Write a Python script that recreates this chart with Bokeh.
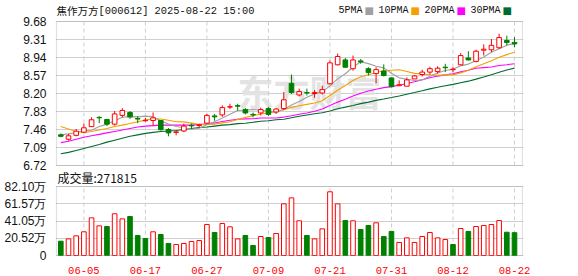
import numpy as np
import pandas as pd
from bokeh.plotting import figure
from bokeh.models import Range1d, FixedTicker, Label, BoxAnnotation
from bokeh.embed import file_html
from bokeh.resources import INLINE

# ---------------- data ----------------
dates = ["05-30", "06-03", "06-04", "06-05", "06-06", "06-09", "06-10", "06-11", "06-12", "06-13",
         "06-16", "06-17", "06-18", "06-19", "06-20", "06-23", "06-24", "06-25", "06-26", "06-27",
         "06-30", "07-01", "07-02", "07-03", "07-04", "07-07", "07-08", "07-09", "07-10", "07-11",
         "07-14", "07-15", "07-16", "07-17", "07-18", "07-21", "07-22", "07-23", "07-24", "07-25",
         "07-28", "07-29", "07-30", "07-31", "08-01", "08-04", "08-05", "08-06", "08-07", "08-08",
         "08-11", "08-12", "08-13", "08-14", "08-15", "08-18", "08-19", "08-20", "08-21", "08-22"]
opens = [7.35, 7.26, 7.34, 7.405, 7.52, 7.71, 7.665, 7.57, 7.75, 7.81,
         7.685, 7.64, 7.645, 7.645, 7.46, 7.40, 7.43, 7.545, 7.54, 7.59,
         7.74, 7.76, 7.92, 7.95, 7.87, 7.77, 7.80, 7.89, 7.82, 7.89,
         8.41, 8.17, 8.22, 8.20, 8.21, 8.40, 8.79, 8.89, 8.71, 8.87,
         8.71, 8.61, 8.66, 8.52, 8.36, 8.35, 8.50, 8.59, 8.64, 8.65,
         8.74, 8.69, 8.79, 8.93, 8.86, 9.09, 9.10, 9.14, 9.29, 9.25]
highs = [7.38, 7.37, 7.47, 7.58, 7.71, 7.73, 7.68, 7.84, 7.90, 7.84,
         7.73, 7.70, 7.81, 7.65, 7.49, 7.44, 7.58, 7.58, 7.58, 7.78,
         7.78, 7.955, 7.99, 7.99, 7.90, 7.81, 7.91, 7.92, 7.90, 8.23,
         8.59, 8.30, 8.30, 8.27, 8.36, 8.88, 9.02, 8.93, 8.98, 8.91,
         8.74, 8.74, 8.80, 8.53, 8.47, 8.53, 8.58, 8.69, 8.75, 8.76,
         8.81, 8.74, 9.03, 9.07, 9.10, 9.21, 9.32, 9.43, 9.39, 9.36]
lows = [7.30, 7.23, 7.32, 7.385, 7.51, 7.59, 7.53, 7.54, 7.71, 7.68,
        7.59, 7.62, 7.54, 7.44, 7.32, 7.34, 7.405, 7.475, 7.51, 7.57,
        7.64, 7.72, 7.88, 7.85, 7.77, 7.71, 7.75, 7.74, 7.78, 7.86,
        8.19, 8.14, 8.16, 8.11, 8.18, 8.39, 8.78, 8.73, 8.67, 8.81,
        8.57, 8.41, 8.55, 8.33, 8.35, 8.35, 8.50, 8.55, 8.59, 8.61,
        8.64, 8.64, 8.78, 8.88, 8.84, 8.98, 9.05, 9.12, 9.19, 9.15]
closes = [7.32, 7.33, 7.425, 7.495, 7.66, 7.70, 7.57, 7.78, 7.85, 7.72,
          7.675, 7.65, 7.70, 7.455, 7.39, 7.41, 7.53, 7.535, 7.56, 7.75,
          7.72, 7.91, 7.93, 7.94, 7.80, 7.76, 7.87, 7.77, 7.88, 8.07,
          8.22, 8.24, 8.21, 8.22, 8.28, 8.83, 8.96, 8.74, 8.89, 8.85,
          8.63, 8.69, 8.57, 8.34, 8.38, 8.48, 8.56, 8.64, 8.71, 8.72,
          8.73, 8.70, 8.98, 8.89, 9.07, 9.11, 9.19, 9.35, 9.25, 9.22]
volumes = [17.0, 19.8, 23.4, 28.2, 44.8, 35.3, 34.5, 49.6, 43.6, 46.4,
           23.8, 20.2, 28.2, 25.0, 14.3, 13.1, 14.3, 16.7, 17.8, 36.9,
           27.4, 38.1, 34.1, 19.8, 23.8, 11.9, 22.6, 21.4, 26.2, 61.5,
           68.6, 41.3, 23.8, 19.8, 31.7, 75.8, 61.5, 41.6, 41.3, 30.9,
           35.7, 38.9, 22.6, 28.6, 15.5, 21.0, 15.5, 22.6, 27.4, 21.0,
           19.0, 13.1, 32.1, 28.6, 34.5, 35.7, 36.9, 41.6, 27.7, 27.18]
# moving-average values at the left edge, before a full window exists
ma5_head = [7.35, 7.37, 7.40, 7.44]
ma10_head = [7.52, 7.47, 7.42, 7.40, 7.42, 7.45, 7.48, 7.52, 7.55]
ma20_head = [7.19, 7.22, 7.26, 7.30, 7.33, 7.36, 7.39, 7.42, 7.45, 7.48,
             7.51, 7.53, 7.54, 7.55, 7.55, 7.55, 7.55, 7.55, 7.56]
ma30_head = [6.96, 6.99, 7.03, 7.07, 7.11, 7.15, 7.20, 7.24, 7.28, 7.32,
             7.35, 7.38, 7.40, 7.42, 7.43, 7.44, 7.46, 7.48, 7.50, 7.51,
             7.53, 7.55, 7.56, 7.58, 7.59, 7.61, 7.63, 7.64, 7.66]
ma_names = ["5PMA", "10PMA", "20PMA", "30PMA"]
ma_windows = [5, 10, 20, 30]
price_ticks = [6.72, 7.09, 7.46, 7.83, 8.20, 8.57, 8.94, 9.31, 9.68]
vol_ticks = [0, 20.52, 41.05, 61.57, 82.10]
vol_tick_labels = ["0", "20.52万", "41.05万", "61.57万", "82.10万"]
date_tick_labels = ["06-05", "06-17", "06-27", "07-09", "07-21", "07-31", "08-12", "08-22"]
stock_name = "焦作万方"
stock_info = "[000612] 2025-08-22 15:00"
volume_label = "成交量:271815"

# ---------------- styles / layout ----------------
UP = "#ff0000"
DOWN = "#008000"
MA_COLORS = ["#a0a0a0", "#f5a000", "#ff00ff", "#006b2e"]
GRID = "#cfcfcf"
FRAME = "#9a9a9a"
TXT = "#111111"

n = len(dates)
x = np.arange(n)
o = np.array(opens); c = np.array(closes); h = np.array(highs); l = np.array(lows)
up = c > o
col = np.where(up, UP, DOWN)
fill = np.where(up, "white", DOWN)
top = np.maximum(o, c); bot = np.minimum(o, c)
prev = np.concatenate([[o[0]], c[:-1]])
vup = c >= prev
vcol = np.where(vup, UP, DOWN)
vfill = np.where(vup, "white", DOWN)

s = pd.Series(closes)
heads = [ma5_head, ma10_head, ma20_head, ma30_head]
mas = []
for w, hd in zip(ma_windows, heads):
    m = s.rolling(w).mean().to_numpy()
    m[:w - 1] = hd
    mas.append(m)

# frame: x 55..523 px, y 0..256 px; price box 21..165 px, volume box 186..255 px
FH = 256
PXB = 7.69
box_l, box_r = -0.56, n + 0.04
xr = Range1d(box_l - 1 / PXB, box_r + 1 / PXB)
tick_pos = [dates.index(t) for t in date_tick_labels]

pstep = (price_ticks[-1] - price_ticks[0]) / 144.0
p_start = price_ticks[0] - (FH - 165) * pstep
p_end = price_ticks[-1] + 21 * pstep
vstep = (vol_ticks[-1] - vol_ticks[0]) / 69.0
v_start = vol_ticks[0] - (FH - 255) * vstep
v_end = vol_ticks[-1] + 186 * vstep


def vol_to_price(val):
    return p_start + (val - v_start) * (p_end - p_start) / (v_end - v_start)


p = figure(width=578, height=276, x_range=xr, y_range=Range1d(p_start, p_end),
           output_backend="svg", toolbar_location=None,
           min_border_left=55, min_border_right=55, min_border_top=0, min_border_bottom=20)
p.extra_y_ranges = {"vol": Range1d(v_start, v_end)}
p.background_fill_color = "white"
p.border_fill_color = "white"
p.outline_line_color = None

# one left axis carries both panels' tick labels
vol_tick_pos = [vol_to_price(t) for t in vol_ticks]
all_ticks = price_ticks + vol_tick_pos
overrides = {t: f"{t:.2f}" for t in price_ticks}
overrides.update({t: lab for t, lab in zip(vol_tick_pos, vol_tick_labels)})
p.yaxis.ticker = FixedTicker(ticks=all_ticks)
p.yaxis.major_label_overrides = overrides
p.ygrid.ticker = FixedTicker(ticks=all_ticks)
p.ygrid.grid_line_color = GRID
p.xgrid.visible = False
p.xaxis.ticker = FixedTicker(ticks=tick_pos)
p.xaxis.major_label_overrides = {t: lab for t, lab in zip(tick_pos, date_tick_labels)}

# watermark
p.add_layout(Label(x=182, y=FH - 90, x_units="screen", y_units="screen", text="东方财富",
                   text_font="Noto Sans CJK SC", text_font_size="36px", text_font_style="bold",
                   text_color="#e3e3e3", text_baseline="middle", level="underlay"))

# dashed vertical grid within each box
k = len(tick_pos)
p.segment(x0=tick_pos, y0=[price_ticks[0]] * k, x1=tick_pos, y1=[price_ticks[-1]] * k,
          line_color=GRID, line_dash="4 3", line_width=1)
p.segment(x0=tick_pos, y0=[vol_ticks[0]] * k, x1=tick_pos, y1=[vol_ticks[-1]] * k,
          line_color=GRID, line_dash="4 3", line_width=1, y_range_name="vol")

# moving averages
for m, colr in zip(mas[::-1], MA_COLORS[::-1]):
    p.line(x, m, line_color=colr, line_width=1.1)

# candles
p.segment(x, h, x, l, line_color=col, line_width=1)
p.vbar(x=x, width=0.6, top=top, bottom=bot, fill_color=fill, line_color=col, line_width=1)

# volume
p.vbar(x=x, width=0.6, top=volumes, bottom=0, fill_color=vfill, line_color=vcol,
       line_width=1, y_range_name="vol")

# box outlines
p.add_layout(BoxAnnotation(left=box_l, right=box_r, bottom=price_ticks[0], top=price_ticks[-1],
                           fill_color=None, line_color=FRAME, line_width=1.2))
p.add_layout(BoxAnnotation(left=box_l, right=box_r, bottom=vol_ticks[0], top=vol_ticks[-1],
                           fill_color=None, line_color=FRAME, line_width=1.2, y_range_name="vol"))

# title, legend, volume header
p.add_layout(Label(x=1, y=FH - 10, x_units="screen", y_units="screen", text=stock_name,
                   text_font="Noto Sans CJK SC", text_font_size="10.5px", text_color=TXT,
                   text_baseline="middle"))
p.add_layout(Label(x=1 + 10.5 * len(stock_name), y=FH - 10, x_units="screen", y_units="screen",
                   text=stock_info, text_font="Liberation Mono", text_font_size="10.4px",
                   text_color=TXT, text_baseline="middle"))
cx = 283
for name, colr in zip(ma_names, MA_COLORS):
    p.add_layout(Label(x=cx, y=FH - 9.5, x_units="screen", y_units="screen", text=name,
                       text_font="Liberation Mono", text_font_size="10px", text_color=TXT,
                       text_baseline="middle"))
    cx += 6 * len(name) + 2
    p.add_layout(Label(x=cx, y=FH - 9.5, x_units="screen", y_units="screen", text="■",
                       text_font="DejaVu Sans", text_font_size="10px", text_color=colr,
                       text_baseline="middle"))
    cx += 14
p.add_layout(Label(x=2, y=FH - 177, x_units="screen", y_units="screen", text=volume_label,
                   text_font="Noto Sans CJK SC", text_font_size="12px", text_color=TXT,
                   text_baseline="middle"))

for ax in list(p.yaxis) + list(p.xaxis):
    ax.axis_line_color = None
    ax.major_tick_line_color = None
    ax.minor_tick_line_color = None
for ax in p.yaxis:
    ax.major_label_standoff = 3
    ax.major_label_text_font = "Liberation Sans"
    ax.major_label_text_font_size = "12px"
    ax.major_label_text_color = TXT
for ax in p.xaxis:
    ax.major_label_standoff = 4
    ax.major_label_text_font = "Liberation Mono"
    ax.major_label_text_font_size = "10.5px"
    ax.major_label_text_color = "#ff0000"

open("out.html", "w").write(file_html(p, INLINE))
